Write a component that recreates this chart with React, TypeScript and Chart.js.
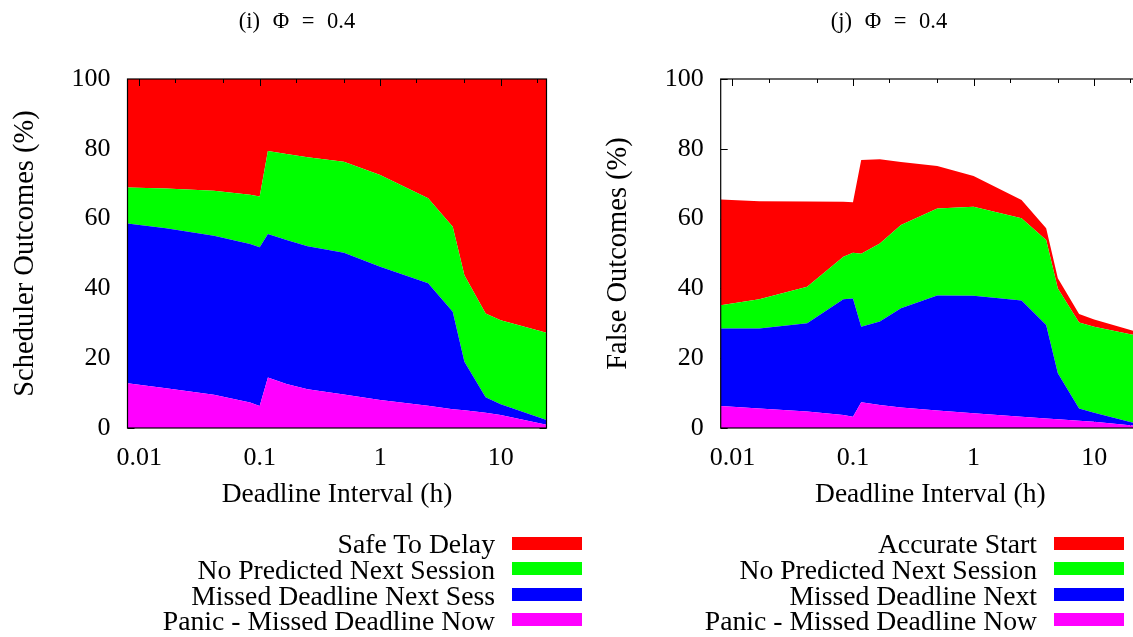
import React, { useEffect, useRef } from "react";
import { Chart, registerables } from "chart.js";

Chart.register(...registerables);

// ---------- data ----------
const xHours = [0.008, 0.0167, 0.0417, 0.0833, 0.1, 0.117, 0.167, 0.25, 0.5, 1, 2.5, 4, 5, 7.5, 10, 24];

// (i) Scheduler outcomes (%), stacked bottom -> top
const schedPanic = [12.8, 11.4, 9.5, 7.3, 6.3, 14.5, 12.6, 11.1, 9.6, 8.0, 6.4, 5.4, 5.1, 4.4, 3.7, 0.9];
const schedMissedNext = [45.8, 45.8, 45.6, 45.4, 45.5, 41.1, 41.3, 41.0, 40.6, 38.2, 35.1, 27.9, 13.9, 4.4, 3.1, 1.4];
const schedNoPredicted = [10.3, 11.4, 12.9, 14.1, 14.5, 23.8, 24.6, 25.5, 26.1, 26.3, 24.3, 24.4, 24.8, 24.0, 24.1, 25.0];
const schedSafeToDelay = [31.1, 31.4, 32.0, 33.2, 33.7, 20.6, 21.5, 22.4, 23.7, 27.5, 34.2, 42.3, 56.2, 67.2, 69.1, 72.7];

// (j) False outcomes (%), stacked bottom -> top
const falsePanic = [6.3, 5.6, 4.7, 3.7, 3.2, 7.4, 6.6, 5.9, 5.0, 4.2, 3.2, 2.7, 2.5, 2.1, 1.8, 0.5];
const falseMissedNext = [22.2, 22.9, 25.3, 33.2, 33.9, 21.6, 23.9, 28.4, 33.0, 33.7, 33.3, 26.8, 13.2, 3.5, 2.6, 0.5];
const falseNoPredicted = [6.7, 8.4, 10.5, 12.2, 13.1, 20.9, 22.4, 23.9, 24.9, 25.5, 23.6, 24.4, 24.3, 24.6, 24.6, 25.3];
const falseAccurateStart = [30.3, 28.1, 24.4, 15.7, 14.5, 26.9, 24.1, 18.0, 12.2, 8.8, 5.2, 3.3, 2.9, 2.5, 2.1, 1.0];

const yTickValues = [0, 20, 40, 60, 80, 100];
const xTickValues = [0.01, 0.1, 1, 10];
const xMinorTickValues = [0.02, 0.05, 0.2, 0.5, 2, 5, 20];

// legend order: top entry first
const schedLegend = ["Safe To Delay", "No Predicted Next Session", "Missed Deadline Next Sess", "Panic - Missed Deadline Now"];
const falseLegend = ["Accurate Start", "No Predicted Next Session", "Missed Deadline Next", "Panic - Missed Deadline Now"];
const legendColors = ["#ff0000", "#00ff00", "#0000ff", "#ff00ff"];

const FONT = "'Liberation Serif', 'Times New Roman', Times, serif";

// ---------- frame / tics plugin ----------
function drawTics(chart: any, sides: string[]) {
  const { ctx, chartArea } = chart;
  const { left, right, top, bottom } = chartArea;
  const xs = chart.scales.x;
  const ys = chart.scales.y;
  ctx.save();
  ctx.strokeStyle = "#000";
  ctx.lineWidth = 1;
  ctx.beginPath();
  if (sides.includes("left") || sides.includes("right")) {
    for (const v of yTickValues) {
      const py = Math.round(ys.getPixelForValue(v)) + 0.5;
      if (sides.includes("left")) {
        ctx.moveTo(left, py);
        ctx.lineTo(left + 7, py);
      }
      if (sides.includes("right")) {
        ctx.moveTo(right, py);
        ctx.lineTo(right - 7, py);
      }
    }
  }
  const allX = [...xTickValues.map((v) => [v, 7]), ...xMinorTickValues.map((v) => [v, 4])];
  for (const [v, len] of allX) {
    const px = Math.round(xs.getPixelForValue(v)) + 0.5;
    if (px < left || px > right) continue;
    if (sides.includes("bottom")) {
      ctx.moveTo(px, bottom);
      ctx.lineTo(px, bottom - len);
    }
    if (sides.includes("top")) {
      ctx.moveTo(px, top);
      ctx.lineTo(px, top + len);
    }
  }
  ctx.stroke();
  ctx.restore();
}

const framePlugin = {
  id: "gnuFrame",
  beforeDatasetsDraw(chart: any) {
    drawTics(chart, ["left", "right", "bottom"]);
  },
  afterDatasetsDraw(chart: any) {
    drawTics(chart, ["top"]);
    const { ctx, chartArea } = chart;
    ctx.save();
    ctx.strokeStyle = "#000";
    ctx.lineWidth = 1.2;
    ctx.strokeRect(chartArea.left, chartArea.top, chartArea.right - chartArea.left, chartArea.bottom - chartArea.top);
    ctx.restore();
  },
};

// ---------- config ----------
function makeConfig(layers: number[][], yTitle: string, yWidth: number, yTitlePad: number, rightPad: number) {
  const colorsBottomUp = ["#ff00ff", "#0000ff", "#00ff00", "#ff0000"];
  return {
    type: "line",
    data: {
      datasets: layers.map((vals, i) => ({
        label: String(i),
        data: xHours.map((x, j) => ({ x, y: vals[j] })),
        backgroundColor: colorsBottomUp[i],
        borderColor: colorsBottomUp[i],
        borderWidth: 0,
        pointRadius: 0,
        tension: 0,
        fill: i === 0 ? "origin" : "-1",
      })),
    },
    options: {
      animation: false,
      responsive: false,
      maintainAspectRatio: false,
      events: [],
      layout: { padding: { left: 0, top: 79, right: rightPad, bottom: 119 } },
      plugins: {
        legend: { display: false },
        tooltip: { enabled: false },
        title: { display: false },
      },
      scales: {
        x: {
          type: "logarithmic",
          min: 0.008,
          max: 24,
          position: "bottom",
          grid: { display: false, drawTicks: false },
          border: { display: false },
          afterBuildTicks: (s: any) => {
            s.ticks = xTickValues.map((v) => ({ value: v }));
          },
          afterFit: (s: any) => {
            s.height = 90;
          },
          ticks: {
            autoSkip: false,
            maxRotation: 0,
            minRotation: 0,
            padding: 15,
            color: "#000",
            font: { family: FONT, size: 26 },
            callback: (v: any) => String(v),
          },
          title: {
            display: true,
            text: "Deadline Interval (h)",
            color: "#000",
            font: { family: FONT, size: 27.5 },
            padding: { top: 0, bottom: 7 },
          },
        },
        y: {
          type: "linear",
          stacked: true,
          min: 0,
          max: 100,
          position: "left",
          grid: { display: false, drawTicks: false },
          border: { display: false },
          afterBuildTicks: (s: any) => {
            s.ticks = yTickValues.map((v) => ({ value: v }));
          },
          afterFit: (s: any) => {
            s.width = yWidth;
          },
          ticks: {
            padding: 17,
            color: "#000",
            font: { family: FONT, size: 26 },
          },
          title: {
            display: true,
            text: yTitle,
            color: "#000",
            font: { family: FONT, size: 28.5 },
            padding: { top: yTitlePad, bottom: 0 },
          },
        },
      },
    },
    plugins: [framePlugin],
  } as any;
}

function Panel(props: {
  left: number;
  width: number;
  layers: number[][];
  yTitle: string;
  yWidth: number;
  yTitlePad: number;
  rightPad: number;
}) {
  const ref = useRef<HTMLCanvasElement | null>(null);
  useEffect(() => {
    if (!ref.current) return;
    const chart = new Chart(ref.current, makeConfig(props.layers, props.yTitle, props.yWidth, props.yTitlePad, props.rightPad));
    return () => chart.destroy();
  }, []);
  return (
    <canvas
      ref={ref}
      width={props.width}
      height={637}
      style={{ position: "absolute", left: props.left, top: 0, width: props.width, height: 637, display: "block" }}
    />
  );
}

function Legend(props: { labels: string[]; textRight: number; swatchLeft: number }) {
  return (
    <>
      {props.labels.map((lab, i) => {
        const cy = 543 + i * 25.6;
        return (
          <React.Fragment key={i}>
            <div
              style={{
                position: "absolute",
                left: props.textRight - 500,
                width: 500,
                top: cy + 1.3 - 16,
                height: 32,
                lineHeight: "32px",
                textAlign: "right",
                fontFamily: FONT,
                fontSize: 27.7,
                color: "#000",
                whiteSpace: "nowrap",
              }}
            >
              {lab}
            </div>
            <div
              style={{
                position: "absolute",
                left: props.swatchLeft,
                top: cy - 6.5,
                width: 70,
                height: 13,
                background: legendColors[i],
              }}
            />
          </React.Fragment>
        );
      })}
    </>
  );
}

function Title(props: { text: string; cx: number }) {
  return (
    <div
      style={{
        position: "absolute",
        left: props.cx - 150,
        width: 300,
        top: 21 - 15,
        height: 30,
        lineHeight: "30px",
        textAlign: "center",
        fontFamily: FONT,
        fontSize: 22.5,
        wordSpacing: 7,
        color: "#000",
        whiteSpace: "nowrap",
      }}
    >
      {props.text}
    </div>
  );
}

export default function App() {
  return (
    <div
      style={{
        position: "fixed",
        left: 0,
        top: 0,
        width: 1133,
        height: 637,
        overflow: "hidden",
        background: "#fff",
      }}
    >
      <Panel
        left={0}
        width={566}
        layers={[schedPanic, schedMissedNext, schedNoPredicted, schedSafeToDelay]}
        yTitle="Scheduler Outcomes (%)"
        yWidth={127.5}
        yTitlePad={8}
        rightPad={19.5}
      />
      <Panel
        left={580}
        width={561}
        layers={[falsePanic, falseMissedNext, falseNoPredicted, falseAccurateStart]}
        yTitle="False Outcomes (%)"
        yWidth={140.7}
        yTitlePad={21}
        rightPad={1}
      />
      <Title text="(i) Φ = 0.4" cx={297} />
      <Title text="(j) Φ = 0.4" cx={889} />
      <Legend labels={schedLegend} textRight={495} swatchLeft={512} />
      <Legend labels={falseLegend} textRight={1037} swatchLeft={1054} />
    </div>
  );
}
